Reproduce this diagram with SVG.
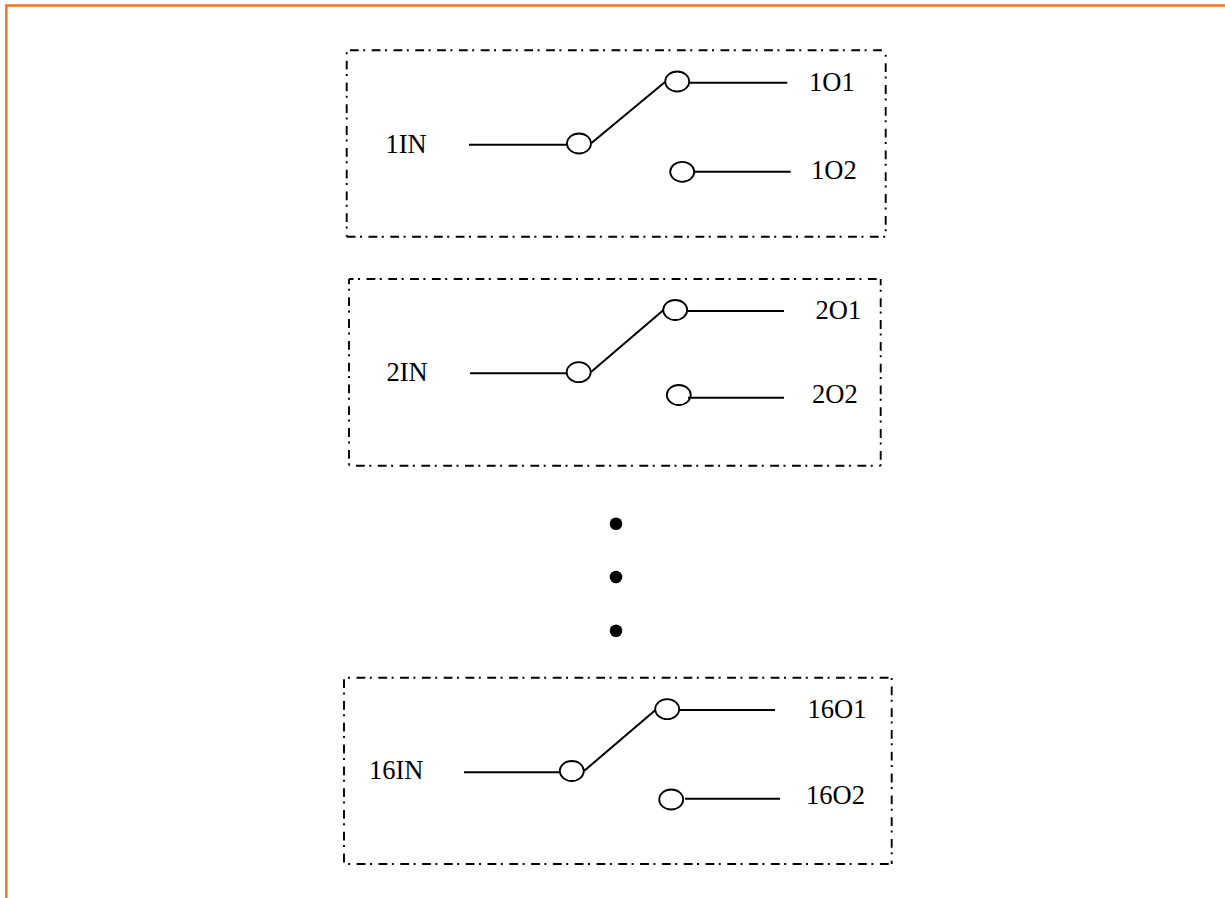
<svg xmlns="http://www.w3.org/2000/svg" width="1225" height="898" viewBox="0 0 1225 898">
<style>
.box{fill:none;stroke:#000;stroke-width:1.9;stroke-dasharray:8.8 4.5 2 6.5}
.w{fill:none;stroke:#000;stroke-width:2}
.c{fill:#fff;stroke:#000;stroke-width:1.8}
text{font-family:"Liberation Serif","Times New Roman",serif;font-size:26.500px;fill:#000}
</style>
<rect width="1225" height="898" fill="#fff"/>
<path id="frame" d="M6.300 898V5.500H1225" fill="none" stroke="#f5731c" stroke-width="2.400"/>
<g id="node1">
<path class="box" stroke-dashoffset="18.600" d="M346.700 50.300H885.700"/>
<path class="box" stroke-dashoffset="11.400" d="M346.700 50.300V236.700"/>
<path class="box" d="M346.700 236.700H885.700"/>
<path class="box" stroke-dashoffset="8.800" d="M885.700 50.300V236.700"/>
<ellipse class="c" cx="579" cy="143.500" rx="12" ry="10"/>
<ellipse class="c" cx="677.200" cy="81.500" rx="12" ry="10"/>
<ellipse class="c" cx="682.200" cy="171.800" rx="12" ry="10"/>
<text x="385.500" y="153">1IN</text>
<text x="809" y="91">1O1</text>
<text x="811" y="179">1O2</text>
</g>
<g id="node2">
<path class="box" stroke-dashoffset="4.300" d="M349 279H880.700"/>
<path class="box" stroke-dashoffset="3.500" d="M349 279V465.700"/>
<path class="box" stroke-dashoffset="14.800" d="M349 465.700H880.700"/>
<path class="box" stroke-dashoffset="2.500" d="M880.700 279V465.700"/>
<ellipse class="c" cx="578.700" cy="372.200" rx="12" ry="10"/>
<ellipse class="c" cx="675.200" cy="310" rx="12" ry="10"/>
<ellipse class="c" cx="678.800" cy="395" rx="12" ry="10"/>
<text x="386.500" y="381">2IN</text>
<text x="815.500" y="319">2O1</text>
<text x="812" y="403">2O2</text>
</g>
<g id="dots">
<circle cx="616" cy="523.700" r="6.300"/>
<circle cx="616" cy="577" r="6.300"/>
<circle cx="616" cy="630.700" r="6.300"/>
</g>
<g id="node16">
<path class="box" stroke-dashoffset="9.300" d="M344 677.700H891.700"/>
<path class="box" stroke-dashoffset="20.300" d="M344 677.700V864"/>
<path class="box" stroke-dashoffset="9.100" d="M344 864H891.700"/>
<path class="box" stroke-dashoffset="13.100" d="M891.700 677.700V864"/>
<ellipse class="c" cx="571.800" cy="771" rx="12" ry="10"/>
<ellipse class="c" cx="667.200" cy="709.200" rx="12" ry="10"/>
<ellipse class="c" cx="671.200" cy="799.500" rx="12" ry="10"/>
<text x="369" y="779">16IN</text>
<text x="807.500" y="718">16O1</text>
<text x="806" y="804">16O2</text>
</g>
<g id="connectors">
<path class="w" d="M469 144.700H567M591.500 143L665 82M690 82.700H787.300M695 171.700H790.700"/>
<path class="w" d="M470 373.300H566M591 372L663.500 310M687.700 311H784M688 397.700H784"/>
<path class="w" d="M464 772.300H559.500M584 771L655.500 710M680 710H775M685 798.700H780"/>
</g>
</svg>
